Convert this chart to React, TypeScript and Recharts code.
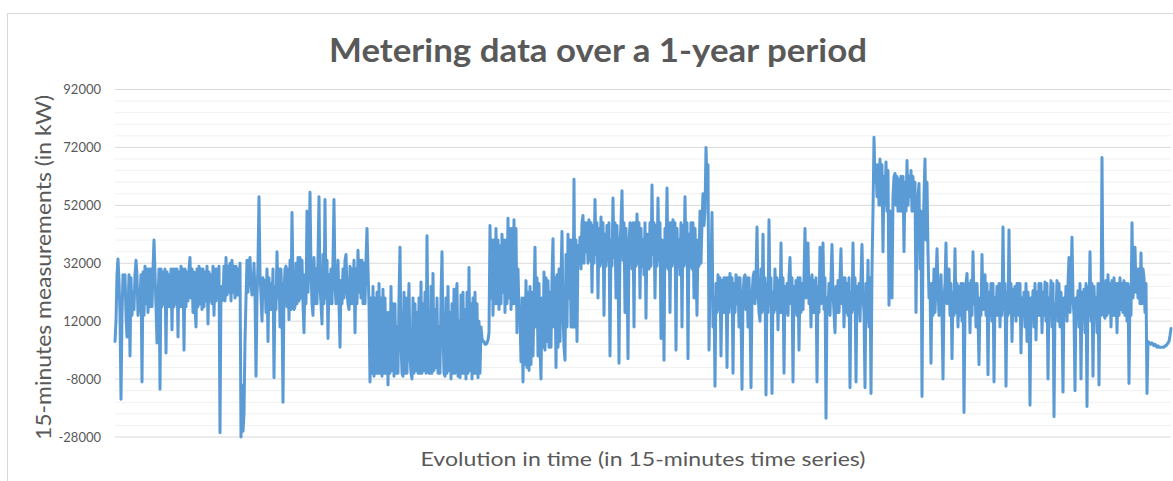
import React from 'react';
import { LineChart, Line, XAxis, YAxis, CartesianGrid } from 'recharts';

// 15-minute metering values (kW), read left to right across the year
const load: number[] = [
  5000, 12000, 28000, 33500, 26000, 14000, -15000, 14000, 28000, 27000, 28000, 14000, 6500, 15000, 28000, 0, 27000, 14000, 22000, 16000, 28000, 33000, 28000, 14000, 18000, 20000, 28000, -9000, 29000, 14000,
  31000, 18000, 30000, 15000, 30000, 17000, 30000, 17000, 30000, 40000, 29000, 17000, 4500, 19000, 30000, -11500, 30000, 17000, 29000, 18000, 30000, 1000, 29000, 17000, 28000, 17000, 30000, 9000, 30000, 17000,
  30000, 18000, 30000, 6500, 29000, 17000, 31000, 17000, 30000, 2000, 30000, 17000, 29000, 19000, 30000, 34000, 20000, 30000, 15000, 29000, 17000, 10000, 30000, 17000, 31000, 18000, 30000, 16000, 30000, 17000,
  29000, 19000, 31000, 11000, 29000, 19000, 28000, 18000, 31000, 14000, 30000, 19000, 30000, 20000, 31000, -26500, 24000, 19000, 20000, 31000, 19000, 34000, 21000, 31000, 22000, 32000, 19000, 33000, 22000, 31000,
  20000, 31000, 21000, 30000, 21000, 32000, -28000, -10000, -26000, -20000, 5000, 20000, 33000, 22000, 32000, 34000, 25000, 21000, 22000, 32000, 21000, -7000, 20000, 32000, 55000, 28000, 21000, 12000, 27000, 21000,
  26000, 15000, 30000, 5000, 27000, 16000, 25000, 16000, 30000, -7500, 24000, 16000, 36000, 20000, 30000, 10000, 30000, 16000, -16000, 22000, 30000, 31000, 17000, 30000, 12500, 33000, 16000, 49500, 25000, 16000,
  17000, 32000, 18000, 34000, 19000, 34000, 20000, 33000, 18000, 8000, 28000, 18000, 50000, 22000, 34000, 56500, 30000, 18000, 14000, 34000, 18000, 30000, 18000, 34000, 55000, 24000, 18000, 11000, 35000, 18000,
  54000, 20000, 33000, 6000, 28000, 18000, 30000, 18000, 33000, 54000, 25000, 18000, 23000, 33000, 18000, 3000, 26000, 18000, 30000, 20000, 33000, 35000, 22000, 18000, 16000, 31000, 18000, 30000, 18000, 33000,
  8000, 30000, 18000, 36500, 22000, 33000, 20000, 33000, 18000, 32000, 18000, 33000, 44000, 30000, 18000, -9000, 20000, -6000, 24000, -7000, 20000, -6000, 22000, -6000, 25000, -6000, 20000, -7000, 23000, -6000,
  20000, -6000, 15000, -10000, 15000, -6000, 24000, -5000, 18000, -7000, 18000, -6000, 10000, -6000, 20000, 37500, 5000, -6000, -7000, 22000, -6000, 20000, -6000, 12000, 25000, 0, -6000, -8000, 20000, -6000,
  18000, -5000, 15000, -6000, 20000, -6000, 25500, -6000, 18000, -5000, 22000, -6000, 41500, 5000, -6000, -6000, 24000, -6000, 28500, -5000, 16000, -4000, 20000, -6000, 10000, -6000, 20000, 36000, 8000, -6000,
  -7000, 20000, -6000, 24000, -5000, 15000, -8000, 18000, -6000, 23000, -6000, 20000, 25000, -7000, 12000, -7500, 21000, -6000, 22000, -6000, 16000, -8000, 22000, -6000, 30500, -5000, 18000, -8000, 20000, -6000,
  22000, -6000, 18000, -7500, 12000, -6000, 10000, 6000, 5000, 5000, 4000, 4000, 4500, 5500, 8000, 45000, 20000, 40000, 14000, 40000, 18000, 44000, 18000, 40000, 16000, 38000, 18000, 42000, 22000, 40000,
  15000, 40000, 18000, 47500, 20000, 44000, 16000, 44000, 18000, 47000, 18000, 44000, 8000, 30000, 15000, 15000, -2000, 20000, -9000, 20000, -3000, 26000, -4000, 22000, -5000, 24000, -3000, 22000, 0, 20000,
  37500, 10000, 27000, 0, 25000, 3000, -8000, 20000, 3000, 29000, 2000, 27000, 5000, 26000, 3000, 22000, 3000, 27000, 40500, 10000, 27000, -4000, 28000, 3000, 30000, 5000, 27000, 43000, 15000, 3000,
  -1500, 35000, 10000, 42000, 20000, 40000, 10000, 40000, 10000, 61000, 10000, 40000, 5000, 38000, 32000, 41000, 30000, 46000, 48500, 32000, 46000, 36000, 46000, 32000, 47000, 33000, 46000, 22000, 45000, 32000,
  54000, 35000, 46000, 20000, 44000, 31000, 48000, 32000, 46000, 14000, 42000, 31000, 45000, 33000, 46000, 0, 40000, 31000, 54500, 34000, 46000, 20000, 45000, 31000, -2500, 38000, 46000, 57000, 33000, 46000,
  15000, 44000, 31000, -1000, 38000, 46000, 45000, 30000, 46000, 10000, 46000, 31000, 49000, 32000, 46000, 20000, 44000, 31000, 40000, 28000, 46000, 13000, 42000, 31000, 30000, 46000, 31000, 59000, 35000, 46000,
  20000, 45000, 31000, 54500, 33000, 46000, 6000, 40000, 31000, -1500, 44000, 31000, 58000, 30000, 46000, 15000, 46000, 31000, 47000, 32000, 46000, 2000, 44000, 31000, 40000, 28000, 46000, 10000, 45000, 31000,
  55000, 32000, 46000, -1000, 42000, 31000, 46000, 30000, 46000, 20000, 44000, 31000, 14000, 40000, 31000, 50000, 32000, 46000, 56000, 45000, 50000, 72000, 60000, 66000, 2000, 25000, 30000, 49500, 10000, 20000,
  -10500, 25000, 15000, 28000, 16000, 27000, 0, 26000, 15000, 27000, 15000, 27000, -4000, 27000, 15000, 28500, 17000, 27000, -6000, 25000, 15000, 28000, 18000, 27000, 10000, 27000, 15000, -11500, 20000, 27000,
  28000, 16000, 27000, 10000, 27000, 15000, -11000, 20000, 27000, 29000, 18000, 27000, 44500, 22000, 15000, 12000, 30000, 15000, 42000, 16000, 27000, -13500, 25000, 15000, 47000, 18000, 27000, -13000, 22000, 15000,
  30000, 16000, 27000, 9000, 26000, 15000, 39000, 15000, 27000, -6000, 24000, 15000, 25000, 14000, 27000, 34000, 18000, 27000, -9000, 24000, 15000, 26000, 14000, 27000, 2000, 27000, 15000, 25000, 16000, 27000,
  44000, 20000, 27000, 39000, 18000, 27000, 10000, 28000, 15000, 26000, 15000, 27000, -9000, 24000, 15000, 37500, 18000, 27000, 39000, 16000, 27000, -21500, 20000, 15000, 25000, 14000, 27000, 38500, 22000, 15000,
  8000, 24000, 15000, 26000, 15000, 27000, 37000, 18000, 27000, 10000, 27000, 15000, 25000, 14000, 27000, -11000, 22000, 15000, 39000, 16000, 27000, -9000, 24000, 15000, 25000, 12000, 27000, 38500, 20000, 15000,
  -11000, 25000, 12000, 33000, 10000, 27000, -13000, 30000, 50000, 75500, 60000, 66000, 55000, 66000, 52000, 68000, 52000, 66000, 36000, 62000, 52000, 67000, 50000, 64000, 17500, 40000, 50000, 20000, 55000, 62000,
  63000, 52000, 62000, 50000, 61000, 50000, 62000, 50000, 62000, 36000, 60000, 50000, 67500, 52000, 62000, 55000, 64000, 50000, 62000, 50000, 60000, 15000, 45000, 55000, 59500, 30000, 50000, -14000, 40000, 55000,
  68000, 40000, 60000, 36000, 20000, 25000, -2500, 25000, 14000, 30000, 15000, 25000, 37000, 24000, 14000, 16000, 28000, 14000, -8000, 20000, 25000, 39000, 18000, 25000, 30000, 14000, 25000, -1000, 22000, 14000,
  37000, 15000, 25000, 10000, 24000, 14000, 25000, 12000, 25000, -19500, 15000, 25000, 28500, 16000, 25000, 8000, 26000, 14000, 36000, 18000, 25000, 10000, 25000, 14000, -3000, 20000, 14000, 35000, 16000, 25000,
  28000, 14000, 25000, -6500, 22000, 14000, 25000, 12000, 25000, -9000, 20000, 14000, 24000, 14000, 25000, 10000, 25000, 14000, 44500, 16000, 25000, -10500, 22000, 14000, 43500, 15000, 25000, 5000, 23000, 14000,
  24000, 12000, 25000, 25000, 14000, 25000, 1000, 20000, 14000, 22000, 10000, 25000, 5000, 22000, 14000, -17000, 20000, 14000, 22500, 10000, 25000, 5500, 22000, 14000, 25000, 14000, 25000, 8000, 22000, 14000,
  25500, 12000, 25000, -8000, 20000, 14000, 26000, 10000, 25000, -21000, 18000, 14000, 26000, 12000, 25000, 10000, 22000, 14000, -12500, 20000, 14000, 24000, 12000, 25000, 34000, 15000, 25000, 41000, 20000, 14000,
  -12000, 20000, 14000, 22500, 10000, 25000, -8000, 22000, 14000, 23000, 8000, 25000, -17500, 24000, 14000, 36000, 12000, 25000, -7000, 24000, 14000, 20000, 8000, 25000, -10000, 25000, 14000, 68500, 20000, 14000,
  13000, 26000, 14000, 28000, 15000, 25000, 10000, 26000, 14000, 27000, 14000, 25000, 8000, 25000, 14000, 27000, 16000, 25000, 15000, 26000, 14000, 25000, 12000, 25000, -9500, 24000, 14000, 46000, 20000, 25000,
  37500, 22000, 30000, 20000, 30000, 18000, 35500, 18000, 30000, 27000, 15000, 25000, -13000, 5000, 4500, 4500, 4000, 4500, 4000, 3500, 4000, 3500, 3000, 3500, 3000, 3000, 3000, 3000, 3000, 3000,
  3500, 3500, 4000, 4500, 5000, 7000, 9500,
];

const yTicks: number[] = [-28000, -8000, 12000, 32000, 52000, 72000, 92000];
const minorGrid: number[] = [
  -24000, -20000, -16000, -12000, -4000, 0, 4000, 8000, 16000, 20000, 24000, 28000,
  36000, 40000, 44000, 48000, 56000, 60000, 64000, 68000, 76000, 80000, 84000, 88000,
];

const titleText = 'Metering data over a 1-year period';
const yLabel = '15-minutes measurements (in kW)';
const xLabel = 'Evolution in time (in 15-minutes time series)';

const data = load.map((v, i) => ({ t: i, v }));

const textColor = '#595959';

export default function App() {
  return (
    <div
      style={{
        position: 'absolute',
        left: 0,
        top: 0,
        width: 1173,
        height: 481,
        overflow: 'hidden',
        background: '#ffffff',
      }}
    >
      <div
        style={{
          position: 'absolute',
          left: 7,
          top: 13,
          width: 1200,
          height: 500,
          border: '1px solid #d9d9d9',
          boxSizing: 'border-box',
        }}
      />
      <div style={{ position: 'absolute', left: 0, top: 0 }}>
        <LineChart
          width={1173}
          height={481}
          data={data}
          margin={{ top: 89.5, right: 2, bottom: 44, left: 55 }}
        >
          <CartesianGrid
            horizontal={true}
            vertical={false}
            horizontalValues={minorGrid}
            stroke="#f0f0f0"
            strokeWidth={1}
          />
          <CartesianGrid
            horizontal={true}
            vertical={false}
            horizontalValues={yTicks}
            stroke="#d9d9d9"
            strokeWidth={1}
          />
          <XAxis dataKey="t" hide={true} padding={{ left: 0, right: 0 }} />
          <YAxis
            type="number"
            domain={[-28000, 92000]}
            ticks={yTicks}
            interval={0}
            width={60}
            axisLine={false}
            tickLine={false}
            tickSize={0}
            tickMargin={14}
            tick={{ fill: textColor, fontSize: 13, fontFamily: 'Lato' }}
          />
          <Line
            type="linear"
            dataKey="v"
            stroke="#5b9bd5"
            strokeWidth={3}
            dot={false}
            strokeLinejoin="round"
            strokeLinecap="round"
            isAnimationActive={false}
          />
        </LineChart>
      </div>
      <svg
        width={1173}
        height={481}
        style={{ position: 'absolute', left: 0, top: 0, pointerEvents: 'none' }}
      >
        <text
          x={598}
          y={62}
          textAnchor="middle"
          fontFamily="Lato"
          fontWeight={700}
          fontSize={32}
          fill={textColor}
          textLength={538}
          lengthAdjust="spacingAndGlyphs"
        >
          {titleText}
        </text>
        <text
          x={0}
          y={0}
          transform="translate(51,267.5) rotate(-90)"
          textAnchor="middle"
          fontFamily="Lato"
          fontSize={21}
          fill={textColor}
          textLength={345}
          lengthAdjust="spacingAndGlyphs"
        >
          {yLabel}
        </text>
        <text
          x={643}
          y={466}
          textAnchor="middle"
          fontFamily="Lato"
          fontSize={20}
          fill={textColor}
          textLength={445}
          lengthAdjust="spacingAndGlyphs"
        >
          {xLabel}
        </text>
      </svg>
    </div>
  );
}
